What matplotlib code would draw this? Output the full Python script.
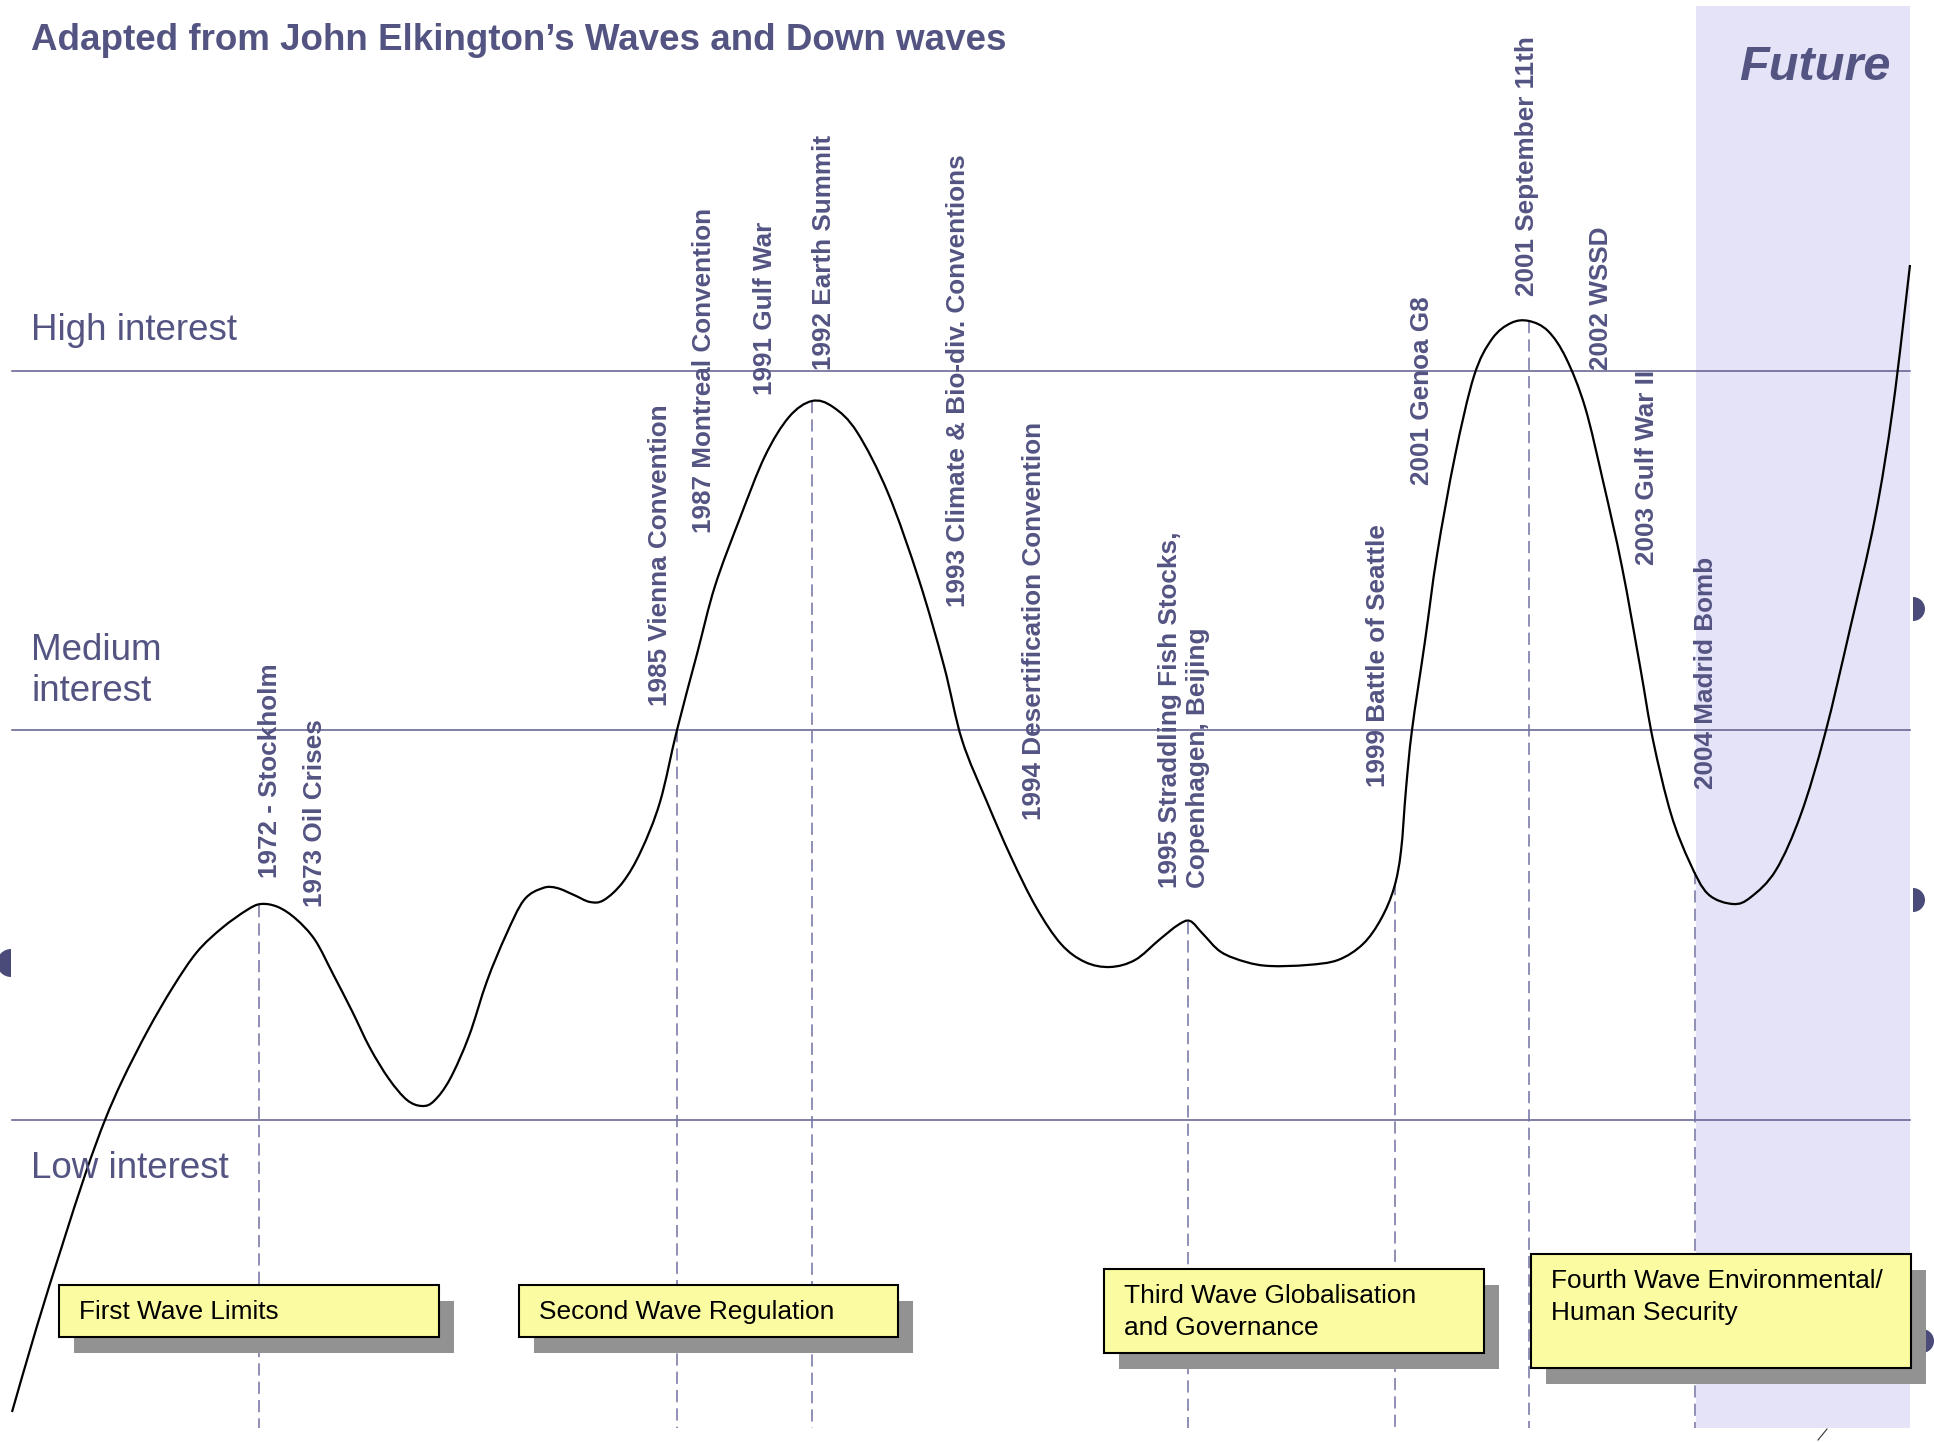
import matplotlib
matplotlib.use("Agg")
import matplotlib.pyplot as plt
from matplotlib.patches import Rectangle, Wedge, PathPatch
from matplotlib.path import Path
import numpy as np

plt.rcParams['font.family'] = ['Liberation Sans', 'DejaVu Sans']

# canvas is laid out in pixel units of the original slide (1934 x 1442)
W, H = 1934, 1442

# interest curve (x position, y position on the slide)
curve_x = [12, 37, 62, 86, 105, 123, 148, 173, 197, 222, 247, 261, 278, 296, 315, 333,
           352, 370, 389, 407, 422, 434, 450, 469, 487, 506, 524, 543, 557, 574, 590, 604,
           623, 641, 660, 677, 697, 715, 740, 765, 789, 812, 833, 857, 888, 919, 944, 962,
           987, 1011, 1036, 1061, 1085, 1110, 1135, 1159, 1178, 1190, 1203, 1221, 1246,
           1270, 1307, 1338, 1363, 1381, 1394, 1401, 1406, 1412, 1425, 1437, 1455, 1474,
           1492, 1511, 1529, 1548, 1566, 1585, 1603, 1622, 1640, 1653, 1671, 1690, 1708,
           1733, 1751, 1776, 1801, 1825, 1850, 1875, 1893, 1910]
curve_y = [1412, 1326, 1246, 1172, 1120, 1079, 1030, 987, 952, 928, 910, 904, 907, 919,
           940, 974, 1011, 1048, 1079, 1100, 1106, 1101, 1079, 1036, 981, 935, 900, 888,
           888, 895, 902, 900, 882, 851, 802, 730, 654, 586, 518, 456, 417, 401, 407, 432,
           493, 580, 666, 740, 802, 857, 907, 944, 962, 967, 960, 940, 925, 921, 934, 952,
           962, 966, 965, 960, 944, 919, 888, 851, 789, 730, 641, 555, 456, 376, 339, 323,
           321, 331, 358, 407, 481, 567, 666, 740, 814, 863, 894, 904, 897, 870, 814, 734,
           629, 518, 407, 265]

# interest bands
level_y = [371, 730, 1120]
level_names = ["High interest", "Medium\ninterest", "Low interest"]
level_label_y = [331, 671, 1168]

# events (rotated labels) and the dashed markers
event_labels = ["1972 - Stockholm", "1973 Oil Crises", "1985 Vienna Convention",
                "1987 Montreal Convention", "1991 Gulf War", "1992 Earth Summit",
                "1993 Climate & Bio-div. Conventions", "1994 Desertification Convention",
                "1995 Straddling Fish Stocks,\nCopenhagen, Beijing", "1999 Battle of Seattle",
                "2001 Genoa G8", "2001 September 11th", "2002 WSSD", "2003 Gulf War II",
                "2004 Madrid Bomb"]
event_x = [270, 315, 660, 704, 765, 824, 958, 1034, 1184, 1378, 1422, 1527, 1601, 1647, 1706]
event_y = [878, 907, 706, 533, 395, 370, 607, 820, 888, 787, 485, 296, 370, 565, 789]
marker_x = [259, 677, 812, 1188, 1395, 1529, 1695]

# wave boxes
wave_names = ["First Wave Limits", "Second Wave Regulation",
              "Third Wave Globalisation\nand Governance",
              "Fourth Wave Environmental/\nHuman Security"]
wave_left = [59, 519, 1104, 1531]
wave_right = [439, 898, 1484, 1911]
wave_top = [1285, 1285, 1269, 1254]
wave_bottom = [1337, 1337, 1353, 1368]

TEXT = '#545483'
LINE = '#5c5c8c'


def smooth_path(xs, ys):
    # Catmull-Rom through the read points, drawn as cubic Bezier segments
    pts = np.column_stack([xs, ys]).astype(float)
    pad = np.vstack([pts[0], pts, pts[-1]])
    verts = [pts[0]]
    codes = [Path.MOVETO]
    for i in range(1, len(pad) - 2):
        p0, p1, p2, p3 = pad[i - 1], pad[i], pad[i + 1], pad[i + 2]
        verts += [p1 + (p2 - p0) / 6, p2 - (p3 - p1) / 6, p2]
        codes += [Path.CURVE4] * 3
    return Path(verts, codes)


fig = plt.figure(figsize=(W / 100, H / 100), dpi=100)
ax = fig.add_axes([0, 0, 1, 1])
ax.set_xlim(0, W)
ax.set_ylim(H, 0)
ax.axis('off')

# future shading
ax.add_patch(Rectangle((1696, 6), 214, 1422, facecolor='#e4e3f7', edgecolor='none', zorder=0))
ax.text(1891, 68, "Future", fontsize=35, fontweight='bold', fontstyle='italic',
        color=TEXT, ha='right', va='center', zorder=5)

# slide bullet remnants on the edges
for cx, cy, r, t1, t2 in [(1913, 609, 12, -90, 90), (1913, 900, 12, -90, 90),
                          (11, 963, 14, 90, 270), (1922, 1341, 12, -90, 90)]:
    ax.add_patch(Wedge((cx, cy), r, t1, t2, facecolor='#4b4b7a', edgecolor='none', zorder=1))
ax.plot([1818, 1827], [1440, 1429], color='#333333', lw=0.8)

# horizontal interest levels
for y in level_y:
    ax.plot([12, 1910], [y, y], color=LINE, lw=1.1, zorder=2)
for y, name in zip(level_label_y, level_names):
    ax.text(31, y, name, fontsize=26.5, color=TEXT, ha='left', va='center',
            linespacing=1.25, zorder=5)

# dashed event markers from the curve down to the bottom
for x in marker_x:
    top = np.interp(x, curve_x, curve_y)
    ax.plot([x, x], [top, 1428], color='#7272a2', lw=1.1, dashes=(8, 4), zorder=2)

# the wave curve
ax.add_patch(PathPatch(smooth_path(curve_x, curve_y), facecolor='none', edgecolor='black',
                       lw=1.6, zorder=3))

# event labels
for x, y, lab in zip(event_x, event_y, event_labels):
    ax.text(x, y, lab, rotation=90, fontsize=18.8, fontweight='bold', color=TEXT,
            ha='center', va='bottom', multialignment='left', linespacing=1.25, zorder=5)

# wave boxes with drop shadow
for i, name in enumerate(wave_names):
    l, r, t, b = wave_left[i], wave_right[i], wave_top[i], wave_bottom[i]
    ax.add_patch(Rectangle((l + 15, t + 16), r - l, b - t, facecolor='#929292',
                           edgecolor='none', zorder=6))
    ax.add_patch(Rectangle((l, t), r - l, b - t, facecolor='#fbfba2',
                           edgecolor='black', lw=1.5, zorder=7))
    if i == 3:
        ax.text(l + 20, t + 15, name, fontsize=18.9, color='black', ha='left', va='top',
                linespacing=1.42, zorder=8)
    else:
        ax.text(l + 20, (t + b) / 2 + 1, name, fontsize=18.9, color='black', ha='left',
                va='center', linespacing=1.42, zorder=8)

ax.text(31, 41, "Adapted from John Elkington\u2019s Waves and Down waves", fontsize=26.5,
        fontweight='bold', color=TEXT, ha='left', va='center', zorder=5)

fig.savefig("out.png", dpi=100)
